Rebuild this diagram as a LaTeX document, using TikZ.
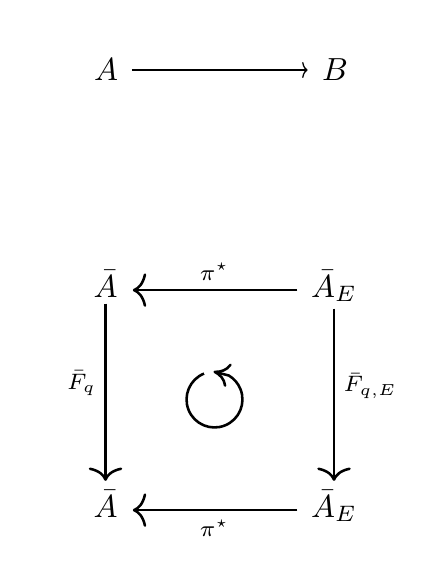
\documentclass[tikz,border=0pt]{standalone}
\usepackage{amsmath,amssymb}
\usepackage{tikz}
\usetikzlibrary{arrows.meta}

\begin{document}
\begin{tikzpicture}[
    x=0.011cm, y=-0.011cm,
    obj/.style={anchor=base, inner sep=1.9pt},
    thinarrow/.style={-{Computer Modern Rightarrow[width=5pt,length=1.7pt]},
                line width=0.4pt, shorten <=0.8pt, shorten >=1pt},
    arrow/.style={-{Computer Modern Rightarrow[width=10.5pt,length=4.2pt]},
                line width=0.8pt},
    rotarrow/.style={-{Computer Modern Rightarrow[width=7.5pt,length=5pt]},
                line width=0.8pt},
    lbl/.style={font=\scriptsize, inner sep=2.6pt}
]
\useasboundingbox (0,0) rectangle (432,584);

\node (a) at (106,70) {$A$};
\node (b) at (335,70) {$B$};
\draw[thinarrow] (a) -- (b);

\node[obj] (tl) at (105.5,297) {$\bar{A}$};
\node[obj] (tr) at (334,297) {$\bar{A}_E$};
\node[obj] (bl) at (105.5,517) {$\bar{A}$};
\node[obj] (br) at (334,517) {$\bar{A}_E$};

\draw[arrow, shorten <=2.2pt, shorten >=2.7pt] (tr.mid west) -- node[lbl, above]{$\pi^\star$} (tl.mid east);
\draw[arrow, shorten <=2.2pt, shorten >=2.7pt] (br.mid west) -- node[lbl, below]{$\pi^\star$} (bl.mid east);
\draw[arrow, shorten >=1pt] (tl) -- node[lbl, left, pos=0.44]{$\bar{F}_q$} (bl);
\draw[arrow, shorten >=1pt] (tr) -- node[lbl, right, pos=0.44]{$\bar{F}_{q,E}$} (br);

% rotation symbol in the middle
\coordinate (rot) at (214.5,399.5);
\draw[rotarrow] (rot) ++(112:8.75pt) arc[start angle=112, end angle=419, radius=8.75pt]
    -- ([shift={(92:8.75pt)}]rot);

\end{tikzpicture}
\end{document}
